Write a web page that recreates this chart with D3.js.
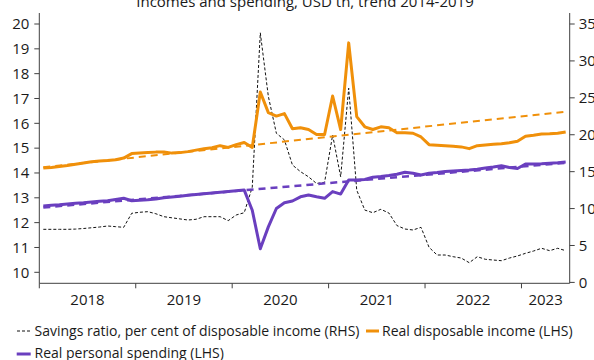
<!DOCTYPE html>
<html>
<head>
<meta charset="utf-8">
<script src="https://cdn.jsdelivr.net/npm/d3@7"></script>
<style>
  html, body { margin: 0; padding: 0; background: #fff; }
  svg { display: block; font-family: "Open Sans", "Noto Sans", sans-serif; }
</style>
</head>
<body>
<svg id="chart" width="594" height="360"></svg>
<script>
// Monthly observations, Jan 2018 – Jun 2023
const months = d3.timeMonth.range(new Date(2018, 0, 1), new Date(2023, 6, 1));
const yearLabels = ["2018", "2019", "2020", "2021", "2022", "2023"];
const leftTicks = [10, 11, 12, 13, 14, 15, 16, 17, 18, 19, 20];
const rightTicks = [0, 5, 10, 15, 20, 25, 30, 35];

// Savings ratio, per cent of disposable income (right axis)
const savingsRatio = [
  7.19, 7.19, 7.19, 7.19, 7.22, 7.3, 7.4, 7.5, 7.64, 7.55, 7.46, 9.36,
  9.5, 9.58, 9.3, 8.9, 8.75, 8.6, 8.45, 8.55, 8.9, 8.9, 8.9, 8.36,
  9.13, 9.44, 12.9, 33.8, 25.2, 20.2, 19.3, 15.9, 15.0, 14.3, 13.4, 13.56,
  19.96, 14.3, 26.3, 12.5, 9.8, 9.44, 9.9, 9.4, 7.7, 7.23, 7.1, 7.46,
  4.75, 3.71, 3.71, 3.48, 3.3, 2.67, 3.48, 3.13, 3.03, 2.94, 3.3, 3.58,
  3.94, 4.25, 4.62, 4.3, 4.62, 4.3
];
// Real disposable income, USD tn (left axis)
const realIncome = [
  14.2, 14.22, 14.26, 14.3, 14.35, 14.4, 14.45, 14.48, 14.5, 14.53, 14.6, 14.78,
  14.8, 14.82, 14.84, 14.85, 14.8, 14.82, 14.86, 14.92, 14.98, 15.02, 15.1, 15.03,
  15.14, 15.23, 15.03, 17.26, 16.43, 16.29, 16.39, 15.78, 15.82, 15.75, 15.55, 15.55,
  17.1, 15.75, 19.24, 16.27, 15.86, 15.75, 15.86, 15.82, 15.62, 15.62, 15.6, 15.45,
  15.14, 15.12, 15.1, 15.08, 15.05, 14.98, 15.1, 15.13, 15.16, 15.18, 15.22, 15.28,
  15.48, 15.52, 15.57, 15.58, 15.6, 15.65
];
// Real personal spending, USD tn (left axis)
const realSpending = [
  12.67, 12.7, 12.72, 12.75, 12.78, 12.8, 12.83, 12.86, 12.88, 12.93, 12.98, 12.88,
  12.9, 12.92, 12.95, 13.0, 13.03, 13.06, 13.1, 13.13, 13.16, 13.19, 13.22, 13.25,
  13.28, 13.31, 12.5, 10.95, 11.83, 12.57, 12.8, 12.87, 13.04, 13.11, 13.04, 12.98,
  13.25, 13.15, 13.72, 13.72, 13.74, 13.83, 13.86, 13.9, 13.95, 14.03, 13.99, 13.92,
  13.99, 14.02, 14.06, 14.08, 14.1, 14.12, 14.15, 14.2, 14.24, 14.29, 14.22, 14.18,
  14.36, 14.36, 14.37, 14.39, 14.41, 14.44
];
// 2014-2019 linear trends, end points at first and last month
const incomeTrend = [14.23, 16.47];
const spendingTrend = [12.61, 14.41];

const ORANGE = "#f0900a";
const PURPLE = "#6a3fbf";
const AXIS = "#404040";
const TEXT = "#1a1a1a";

const svg = d3.select("#chart");
const plot = { left: 39.3, right: 569.7, top: 13, bottom: 283.3 };

const x = d3.scaleBand().domain(months).range([plot.left, plot.right]);
const xc = d => x(d) + x.bandwidth() / 2;
const yL = d3.scaleLinear().domain([10, 20]).range([272.3, 24]);
const yR = d3.scaleLinear().domain([0, 35]).range([282.4, 24]);

// Title
svg.append("text")
  .attr("x", 305).attr("y", 7)
  .attr("text-anchor", "middle")
  .attr("font-size", 15).attr("fill", TEXT)
  .text("Incomes and spending, USD tn, trend 2014-2019");

// Left axis
const gL = svg.append("g").attr("transform", `translate(${plot.left},0)`);
gL.append("line").attr("y1", plot.top).attr("y2", plot.bottom).attr("stroke", AXIS);
leftTicks.forEach(t => {
  gL.append("line").attr("x1", -5).attr("x2", 0).attr("y1", yL(t)).attr("y2", yL(t)).attr("stroke", AXIS);
  gL.append("text").attr("x", -10).attr("y", yL(t)).attr("dy", "0.35em")
    .attr("text-anchor", "end").attr("font-size", 15).attr("fill", TEXT).text(t);
});

// Right axis
const gR = svg.append("g").attr("transform", `translate(${plot.right},0)`);
gR.append("line").attr("y1", plot.top).attr("y2", plot.bottom).attr("stroke", AXIS);
rightTicks.forEach(t => {
  gR.append("line").attr("x1", 0).attr("x2", 5).attr("y1", yR(t)).attr("y2", yR(t)).attr("stroke", AXIS);
  gR.append("text").attr("x", 9).attr("y", yR(t)).attr("dy", "0.35em")
    .attr("text-anchor", "start").attr("font-size", 15).attr("fill", TEXT).text(t);
});

// Bottom axis: ticks at year boundaries, labels centred on each year
const gX = svg.append("g");
gX.append("line").attr("x1", plot.left).attr("x2", plot.right)
  .attr("y1", plot.bottom).attr("y2", plot.bottom).attr("stroke", AXIS);
yearLabels.forEach(label => {
  const inYear = months.filter(m => m.getFullYear() === +label);
  const x0 = x(inYear[0]);
  const x1 = x(inYear[inYear.length - 1]) + x.bandwidth();
  gX.append("line").attr("x1", x0).attr("x2", x0)
    .attr("y1", plot.bottom).attr("y2", plot.bottom + 5).attr("stroke", AXIS);
  gX.append("text").attr("x", (x0 + x1) / 2).attr("y", 305)
    .attr("text-anchor", "middle").attr("font-size", 15).attr("fill", TEXT).text(label);
});

// Series
const lineL = d3.line().x((d, i) => xc(months[i])).y(d => yL(d));
const lineR = d3.line().x((d, i) => xc(months[i])).y(d => yR(d));

svg.append("path").datum(savingsRatio).attr("d", lineR)
  .attr("fill", "none").attr("stroke", "#111").attr("stroke-width", 1)
  .attr("stroke-dasharray", "3,2");

svg.append("path").datum(realIncome).attr("d", lineL)
  .attr("fill", "none").attr("stroke", ORANGE).attr("stroke-width", 3)
  .attr("stroke-linejoin", "round");

svg.append("path").datum(realSpending).attr("d", lineL)
  .attr("fill", "none").attr("stroke", PURPLE).attr("stroke-width", 3)
  .attr("stroke-linejoin", "round");

// Trend lines
const trendEnds = [months[0], months[months.length - 1]];
const trendLine = d3.line().x((d, i) => xc(trendEnds[i])).y(d => yL(d));
svg.append("path").datum(incomeTrend).attr("d", trendLine)
  .attr("fill", "none").attr("stroke", ORANGE).attr("stroke-width", 2)
  .attr("stroke-dasharray", "7,5");
svg.append("path").datum(spendingTrend).attr("d", trendLine)
  .attr("fill", "none").attr("stroke", PURPLE).attr("stroke-width", 2.5)
  .attr("stroke-dasharray", "7,5");

// Legend
const legend = svg.append("g").attr("font-size", 14).attr("fill", TEXT);
const row1 = 336, row2 = 358;
legend.append("line").attr("x1", 17).attr("x2", 32).attr("y1", row1 - 5).attr("y2", row1 - 5)
  .attr("stroke", "#111").attr("stroke-width", 1).attr("stroke-dasharray", "3,2");
legend.append("text").attr("x", 34.5).attr("y", row1)
  .text("Savings ratio, per cent of disposable income (RHS)");
legend.append("line").attr("x1", 366).attr("x2", 379).attr("y1", row1 - 5).attr("y2", row1 - 5)
  .attr("stroke", ORANGE).attr("stroke-width", 3);
legend.append("text").attr("x", 382).attr("y", row1)
  .text("Real disposable income (LHS)");
legend.append("line").attr("x1", 16.7).attr("x2", 30.7).attr("y1", row2 - 4).attr("y2", row2 - 4)
  .attr("stroke", PURPLE).attr("stroke-width", 3);
legend.append("text").attr("x", 34.5).attr("y", row2)
  .text("Real personal spending (LHS)");
</script>
</body>
</html>
